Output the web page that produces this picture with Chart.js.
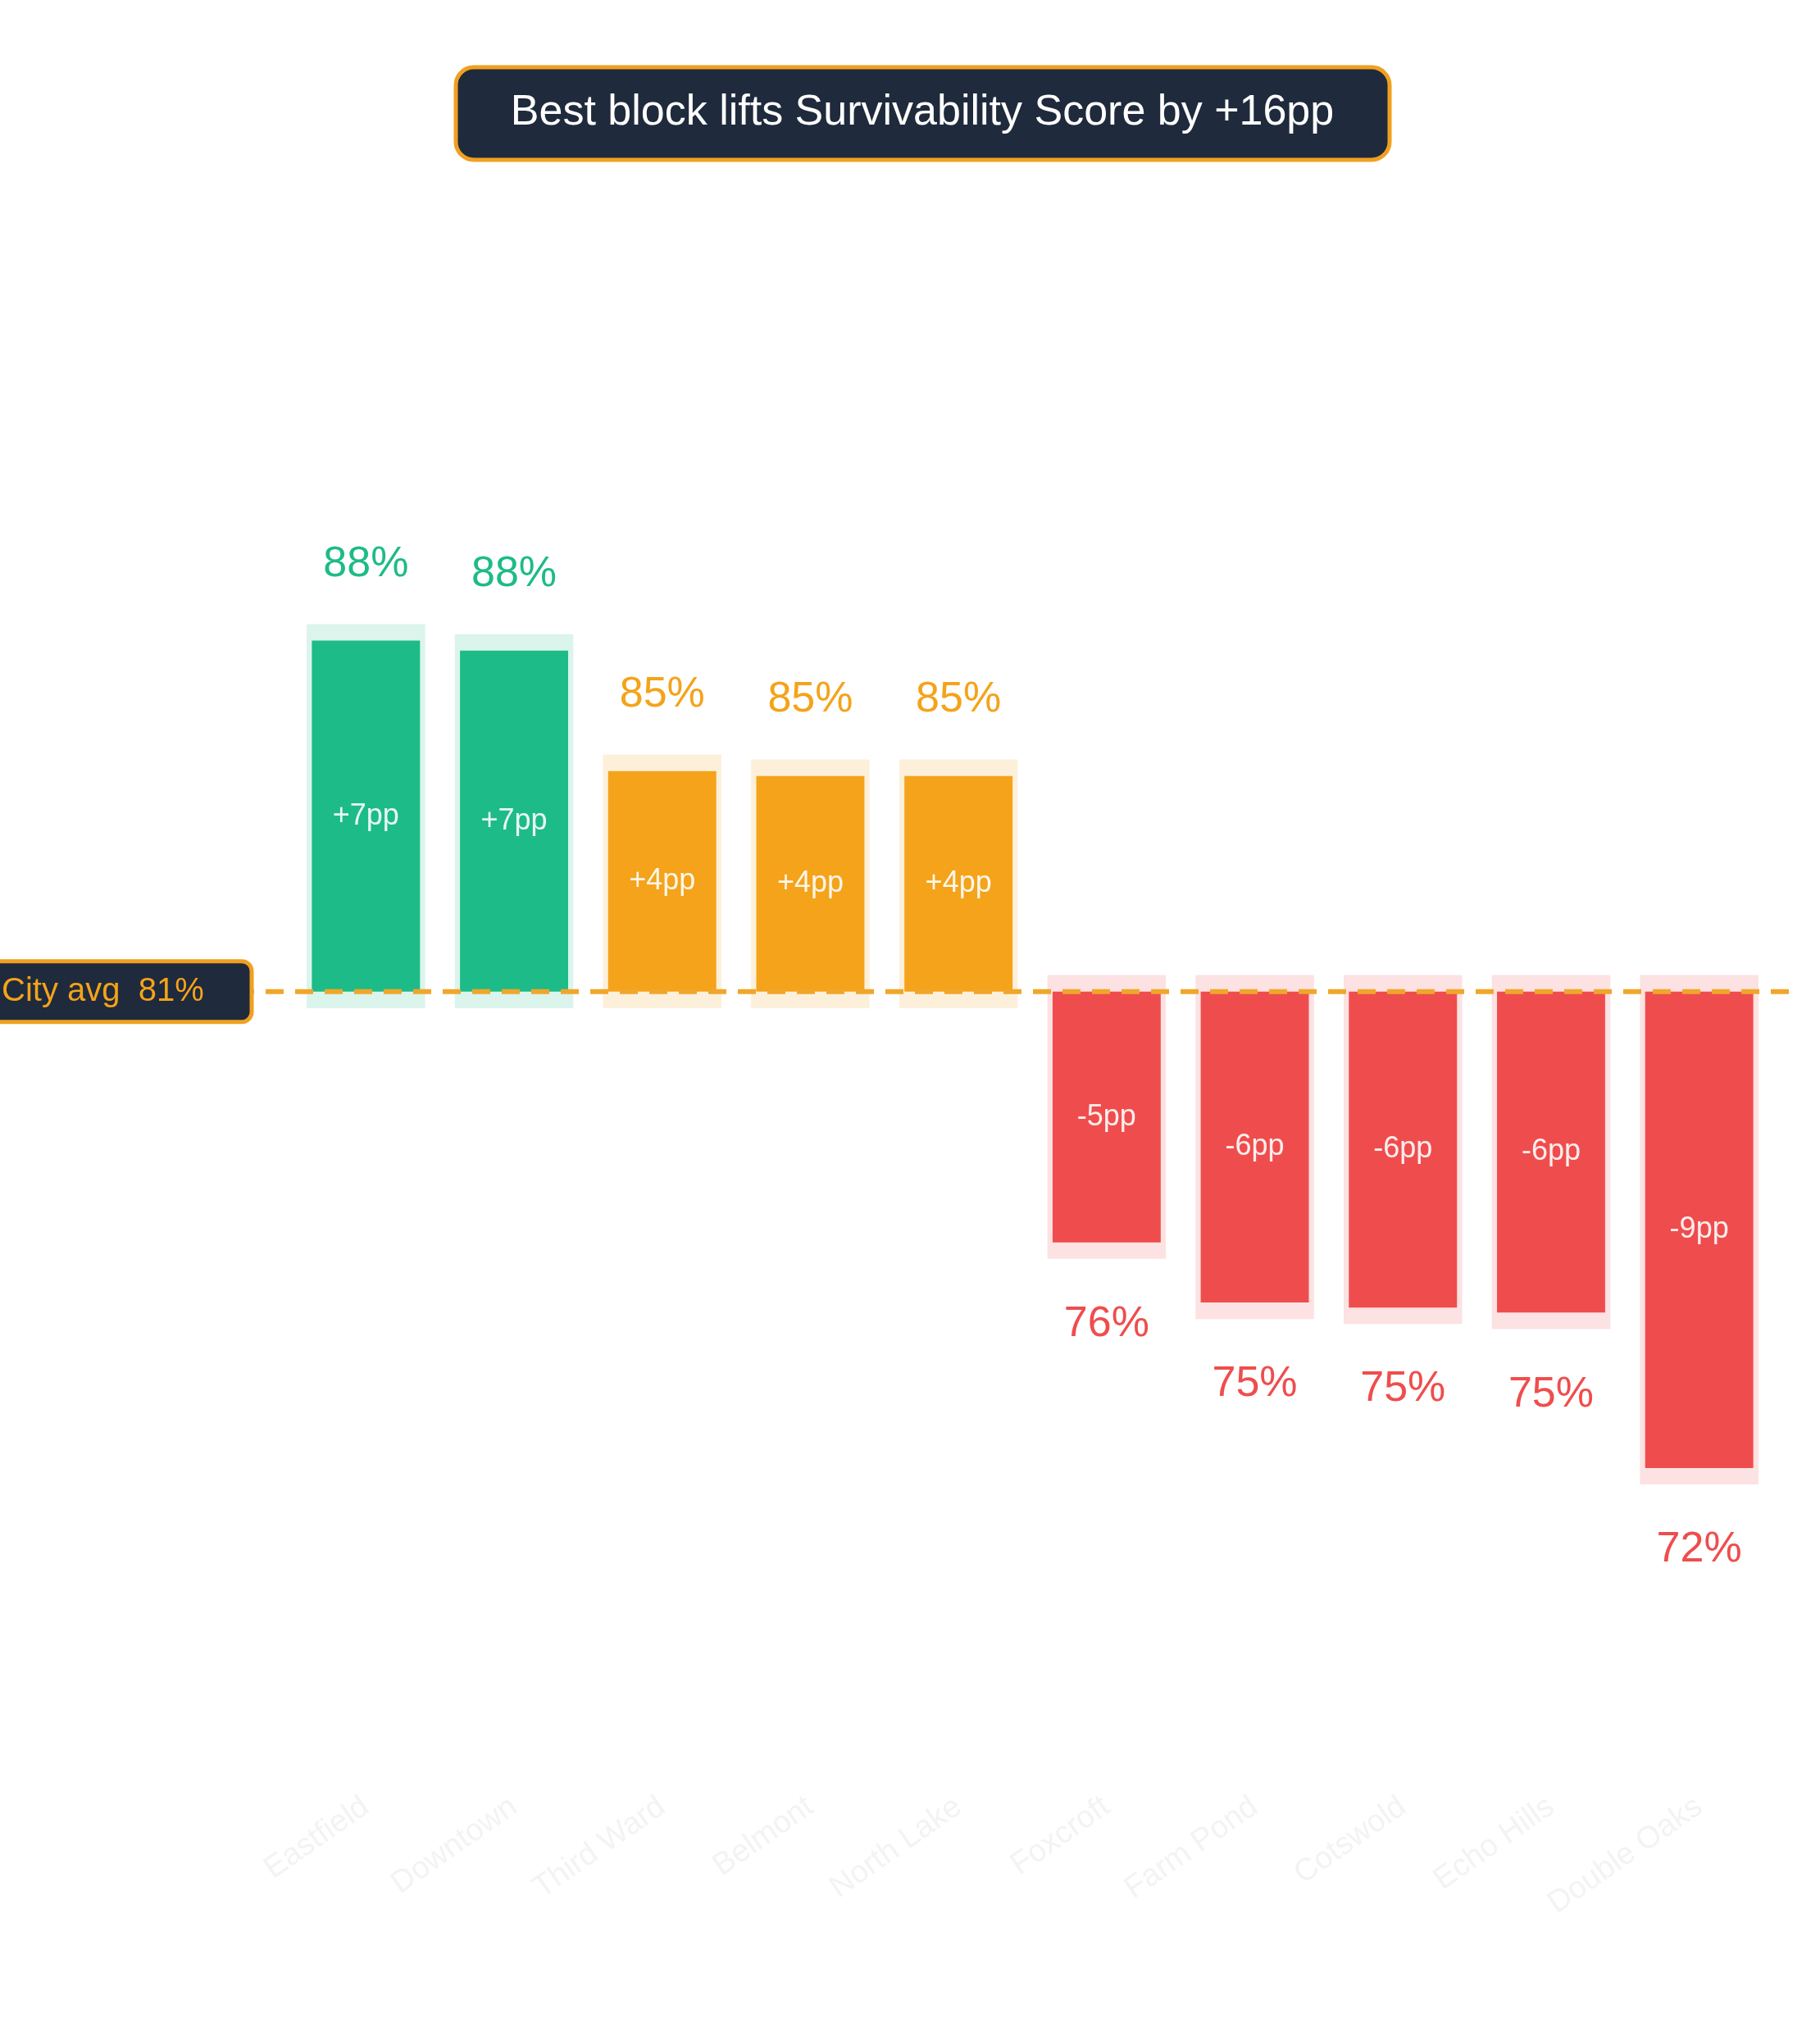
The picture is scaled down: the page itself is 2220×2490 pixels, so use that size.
<!DOCTYPE html>
<html><head><meta charset="utf-8">
<script src="https://cdn.jsdelivr.net/npm/chart.js@4/dist/chart.umd.min.js"></script>
<style>html,body{margin:0;padding:0;background:#fff}#w{width:2220px;height:2490px}</style>
</head><body><div id="w"><canvas id="c"></canvas></div>
<script>
const categories = ["Eastfield","Downtown","Third Ward","Belmont","North Lake","Foxcroft","Farm Pond","Cotswold","Echo Hills","Double Oaks"];
const scores = [88.0, 87.8, 85.4, 85.3, 85.3, 76.0, 74.8, 74.7, 74.6, 71.5];
const cityAvg = 81;
const titleText = "Best block lifts Survivability Score by +16pp";
const FONT = "'Liberation Sans', Arial, sans-serif";

function colorFor(v){ const d=v-cityAvg; return d>=6?'#1dbb87':(d>0?'#f4a31a':'#ef4d4d'); }
function haloFor(v){ const d=v-cityAvg; return d>=6?'rgba(29,187,135,0.16)':(d>0?'rgba(244,163,26,0.16)':'rgba(239,77,77,0.16)'); }

const barData = scores.map(v=>[cityAvg, v]);
const haloData = scores.map(v=> v>cityAvg ? [cityAvg-0.33, v+0.33] : [cityAvg+0.33, v-0.33]);

const overlay = {
  id:'overlay',
  afterDatasetsDraw(chart){
    const ctx=chart.ctx, y=chart.scales.y, x=chart.scales.x;
    const ay=y.getPixelForValue(cityAvg);
    ctx.save();
    // dashed avg line
    ctx.strokeStyle='#f0a62a'; ctx.lineWidth=6; ctx.setLineDash([22,14]);
    ctx.beginPath(); ctx.moveTo(0,ay); ctx.lineTo(2185,ay); ctx.stroke();
    ctx.setLineDash([]);
    // labels
    const meta=chart.getDatasetMeta(1);
    scores.forEach((v,i)=>{
      const bx=meta.data[i].x;
      const top=y.getPixelForValue(v);
      const d=Math.round(v-cityAvg);
      ctx.fillStyle='rgba(255,255,255,0.9)'; ctx.font='36px '+FONT;
      ctx.textAlign='center'; ctx.textBaseline='middle';
      ctx.fillText((d>0?'+':'')+d+'pp', bx, (top+ay)/2);
      ctx.fillStyle=colorFor(v); ctx.font='52px '+FONT;
      ctx.fillText(Math.round(v)+'%', bx, v>cityAvg? top-93 : top+100);
    });
    // city avg box
    function rr(x0,y0,w,h,r){ctx.beginPath();ctx.moveTo(x0+r,y0);ctx.arcTo(x0+w,y0,x0+w,y0+h,r);ctx.arcTo(x0+w,y0+h,x0,y0+h,r);ctx.arcTo(x0,y0+h,x0,y0,r);ctx.arcTo(x0,y0,x0+w,y0,r);ctx.closePath();}
    rr(-20,ay-37,327,74,12); ctx.fillStyle='#1f2a3c'; ctx.fill();
    ctx.strokeStyle='#f0a020'; ctx.lineWidth=5; ctx.stroke();
    ctx.fillStyle='#f4a31a'; ctx.font='40px '+FONT; ctx.textAlign='left';
    ctx.fillText('City avg  '+cityAvg+'%', 2, ay);
    // title box
    rr(556,82,1139,113,22); ctx.fillStyle='#1f2a3c'; ctx.fill();
    ctx.strokeStyle='#f0a020'; ctx.lineWidth=5; ctx.stroke();
    ctx.fillStyle='#ffffff'; ctx.font='52px '+FONT; ctx.textAlign='center';
    ctx.fillText(titleText, 1125, 138);
    ctx.restore();
  }
};

new Chart(document.getElementById('c'),{
  type:'bar',
  data:{labels:categories,datasets:[
    {data:haloData,backgroundColor:scores.map(haloFor),barPercentage:0.8,categoryPercentage:1,grouped:false,order:2},
    {data:barData,backgroundColor:scores.map(colorFor),barPercentage:0.73,categoryPercentage:1,grouped:false,order:1}
  ]},
  options:{
    responsive:true,maintainAspectRatio:false,devicePixelRatio:1,animation:false,
    layout:{padding:{left:356,right:57,top:225,bottom:0}},
    plugins:{legend:{display:false},tooltip:{enabled:false}},
    scales:{
      y:{display:false,min:65.4,max:97.1},
      x:{grid:{display:false},border:{display:false},
         afterFit(s){s.height=326;},
         ticks:{minRotation:35,maxRotation:35,color:'#f3f3f3',font:{size:38,family:FONT},padding:10}}
    }
  },
  plugins:[overlay]
});
</script></body></html>
